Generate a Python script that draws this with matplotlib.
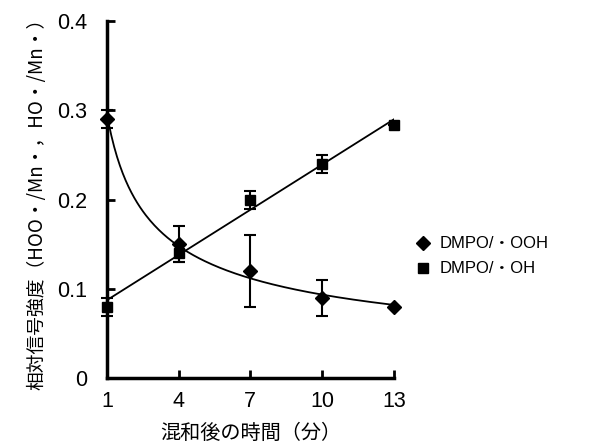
import matplotlib
matplotlib.use("Agg")
import matplotlib.pyplot as plt
import numpy as np

plt.rcParams['font.family'] = ['Noto Sans CJK JP', 'DejaVu Sans']

# data
minutes = [1, 4, 7, 10, 13]
ooh = [0.29, 0.15, 0.12, 0.09, 0.08]
ooh_err = [0.01, 0.02, 0.04, 0.02, 0.0]
oh = [0.08, 0.14, 0.20, 0.24, 0.283]
oh_err = [0.01, 0.01, 0.01, 0.01, 0.0]

x_ticks = [1, 4, 7, 10, 13]
y_ticks = [0, 0.1, 0.2, 0.3, 0.4]
y_tick_labels = ['0', '0.1', '0.2', '0.3', '0.4']
labels = ['DMPO/・OOH', 'DMPO/・OH']

fig = plt.figure(figsize=(5.94, 4.46), dpi=100)
ax = fig.add_axes([0.18, 0.152, 0.483, 0.801])

x = np.array(minutes, dtype=float)
xs = np.linspace(1, 13, 200)

# power trendline for OOH, linear trendline for OH
b, ln_a = np.polyfit(np.log(x), np.log(ooh), 1)
ax.plot(xs, np.exp(ln_a) * xs ** b, color='black', lw=1.3, zorder=2)
m, c = np.polyfit(x, oh, 1)
ax.plot(xs, m * xs + c, color='black', lw=1.3, zorder=2)

h1 = ax.errorbar(x, ooh, yerr=ooh_err, fmt='D', color='black', ms=7,
                 capsize=4, elinewidth=1.5, capthick=1.5, zorder=3, clip_on=False)
h2 = ax.errorbar(x, oh, yerr=oh_err, fmt='s', color='black', ms=7.5,
                 capsize=4, elinewidth=1.5, capthick=1.5, zorder=3, clip_on=False)

ax.set_xlim(1, 13)
ax.set_ylim(0, 0.4)
ax.set_xticks(x_ticks)
ax.set_yticks(y_ticks)
ax.set_yticklabels(y_tick_labels)

for s in ['top', 'right']:
    ax.spines[s].set_visible(False)
for s in ['left', 'bottom']:
    ax.spines[s].set_linewidth(2.5)

ax.tick_params(axis='both', direction='in', length=6, width=2)
ax.tick_params(axis='y', pad=14)
ax.tick_params(axis='x', pad=9)
for lab in ax.get_xticklabels() + ax.get_yticklabels():
    lab.set_family(['Liberation Sans', 'DejaVu Sans'])
    lab.set_fontsize(15.5)

ax.set_xlabel('混和後の時間（分）', fontsize=14.5, labelpad=8)
ax.set_ylabel('相対信号強度（HOO・/Mn・，HO・/Mn・）', fontsize=13.5, labelpad=7)

leg = fig.legend([h1[0], h2[0]], labels, loc='center left',
                 bbox_to_anchor=(0.672, 0.425), frameon=False,
                 handlelength=1.0, handletextpad=0.5, labelspacing=0.6,
                 prop={'family': ['Liberation Sans', 'Noto Sans CJK JP'], 'size': 12})

fig.savefig('out.png', dpi=100)
